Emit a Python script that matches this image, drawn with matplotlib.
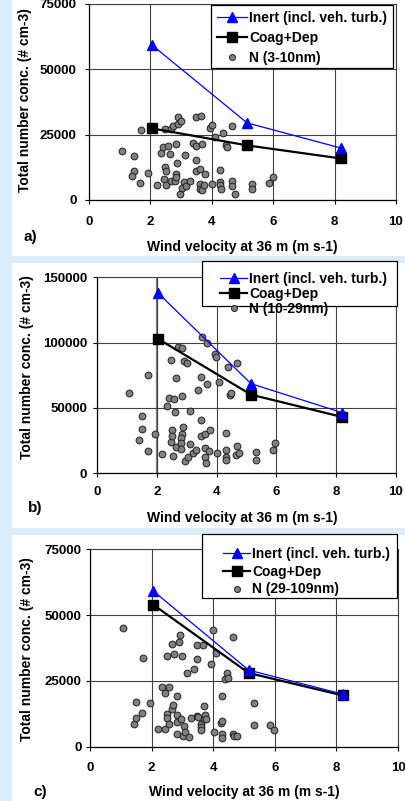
import matplotlib
matplotlib.use("Agg")
import matplotlib.pyplot as plt
from matplotlib.patches import Rectangle
from matplotlib.lines import Line2D

plt.rcParams['font.family'] = ['Liberation Sans', 'DejaVu Sans']
plt.rcParams['font.weight'] = 'bold'

# ---------------- data ----------------
model_wind = [2.05, 5.15, 8.2]

inert_a = [59300, 29500, 19900]
coag_a = [27400, 20900, 15900]
obs_a_x = [1.07, 1.48, 1.48, 1.40, 1.67, 1.70, 1.93, 2.20, 2.34, 2.42, 2.47, 2.48, 2.50, 2.45,
           2.52, 2.57, 2.63, 2.68, 2.74, 2.68, 2.79, 2.84, 2.86, 2.84, 2.84, 2.89, 2.91, 2.99,
           2.96, 3.02, 3.09, 3.13, 3.17, 3.29, 3.39, 3.48, 3.48, 3.50, 3.48, 3.61, 3.66, 3.67,
           3.62, 3.61, 3.67, 3.74, 3.77, 3.93, 4.00, 4.02, 4.09, 4.28, 4.26, 4.28, 4.30, 4.37,
           4.46, 4.49, 4.65, 4.66, 4.65, 4.76, 5.32, 5.32, 5.87, 5.98]
obs_a_y = [18750, 16960, 11100, 9060, 6380, 26660, 10330, 5870, 17860, 20150, 27300, 12750, 10970, 8160,
           5610, 20790, 17600, 27040, 28440, 7140, 7270, 21560, 14290, 9950, 8900, 31630, 29080, 30360,
           2300, 4460, 7020, 17220, 5480, 7270, 21940, 20790, 15180, 31630, 11100, 11990, 32140, 21430,
           5990, 4340, 3830, 5610, 9820, 27680, 28830, 6120, 24110, 11480, 6890, 5610, 4340, 25770,
           20920, 20400, 28440, 7270, 5360, 2170, 6250, 4340, 6630, 8800]

inert_b = [137800, 68600, 46400]
coag_b = [102800, 60200, 43100]
obs_b_x = [1.07, 1.40, 1.49, 1.49, 1.69, 1.70, 1.93, 2.19, 2.34, 2.42, 2.47, 2.57, 2.46, 2.51,
           2.52, 2.54, 2.60, 2.63, 2.64, 2.70, 2.84, 2.84, 2.84, 2.82, 2.81, 2.82, 2.87, 2.91,
           3.02, 2.93, 3.05, 3.11, 3.12, 3.21, 3.32, 3.38, 3.47, 3.47, 3.49, 3.50, 3.60, 3.61,
           3.61, 3.66, 3.68, 3.69, 3.74, 3.78, 3.95, 3.99, 4.02, 4.08, 4.31, 4.30, 4.30, 4.30,
           4.38, 4.45, 4.48, 4.67, 4.67, 4.64, 4.75, 5.31, 5.31, 5.87, 5.96]
obs_b_y = [61220, 25510, 43880, 33930, 17090, 75250, 29850, 14540, 51790, 57650, 86730, 57140, 23980, 33160,
           28830, 13520, 46940, 72960, 20150, 96430, 95920, 59440, 30100, 27040, 22960, 18370, 35710, 85970,
           84690, 9440, 12240, 22190, 47960, 15310, 17600, 63780, 73470, 41070, 28830, 104590, 30100, 19130,
           12240, 8160, 99740, 68110, 16840, 33420, 91330, 89030, 15820, 69640, 30870, 17860, 12500, 9950,
           81630, 60200, 61730, 84180, 20920, 14290, 15820, 16070, 9950, 18110, 22960]

inert_c = [59200, 29100, 20000]
coag_c = [54000, 28000, 19500]
obs_c_x = [1.08, 1.43, 1.49, 1.50, 1.69, 1.72, 1.94, 2.22, 2.35, 2.42, 2.49, 2.49, 2.50, 2.45,
           2.55, 2.58, 2.65, 2.67, 2.68, 2.72, 2.84, 2.84, 2.84, 2.83, 2.92, 2.88, 2.95, 2.99,
           3.01, 3.06, 3.08, 3.15, 3.20, 3.29, 3.39, 3.46, 3.48, 3.49, 3.50, 3.60, 3.60, 3.60,
           3.67, 3.69, 3.69, 3.75, 3.78, 3.92, 4.00, 4.02, 4.09, 4.26, 4.29, 4.29, 4.28, 4.28,
           4.37, 4.44, 4.48, 4.65, 4.65, 4.68, 4.76, 5.32, 5.32, 5.86, 5.97]
obs_c_y = [44980, 8490, 11020, 16980, 12670, 33830, 16600, 6840, 22680, 20530, 34340, 12420, 11020, 6720,
           8620, 22680, 14320, 39020, 15840, 35350, 19130, 12040, 9250, 4690, 42320, 39910, 10390, 34590,
           4180, 7980, 5570, 27870, 3800, 11020, 29650, 11660, 33320, 38640, 11150, 8490, 7470, 6340,
           38640, 15330, 10520, 12040, 10520, 31290, 44220, 5570, 35600, 9000, 9760, 19390, 4810, 3170,
           25850, 28130, 25970, 41560, 4940, 4180, 4180, 16720, 8110, 8110, 6340]

x_ticks = [0, 2, 4, 6, 8, 10]
y_ticks_ac = [0, 25000, 50000, 75000]
y_ticks_b = [0, 50000, 100000, 150000]

labels_obs = ["N (3-10nm)", "N (10-29nm)", "N (29-109nm)"]
label_inert = "Inert (incl. veh. turb.)"
label_coag = "Coag+Dep"
xlabel = "Wind velocity at 36 m (m s-1)"
ylabel = "Total number conc. (# cm-3)"
panel_labels = ["a)", "b)", "c)"]

# ---------------- figure ----------------
W, H = 406, 801
fig = plt.figure(figsize=(W / 100, H / 100), dpi=100)
fig.patch.set_facecolor('#dcedfa')


def fx(px):
    return px / W


def fy(py):
    return 1 - py / H


# white panels
for top, bot in [(0, 256), (263, 528), (535, 801)]:
    fig.patches.append(Rectangle((fx(12), fy(bot)), fx(406) - fx(12), (bot - top) / H,
                                 transform=fig.transFigure, facecolor='white',
                                 edgecolor='none', zorder=-10))

FS = 10
TFS = 9.5

panels = [
    dict(box=(89, 396, 4, 200), inert=inert_a, coag=coag_a, ox=obs_a_x, oy=obs_a_y,
         yt=y_ticks_ac, ymax=75000, lab=labels_obs[0],
         frame=(211, 393, 5, 68), leg=(217, 11), hl=2.15, lsp=0.44,
         xpad=8.5, ypad=6,
         ylab=(25, 100), xlab=(242, 247), pl=(24, 237)),
    dict(box=(97, 396, 277.3, 473.3), inert=inert_b, coag=coag_b, ox=obs_b_x, oy=obs_b_y,
         yt=y_ticks_b, ymax=150000, lab=labels_obs[1],
         frame=(202, 397, 261, 306), leg=(220, 272), hl=1.95, lsp=0.08,
         xpad=6, ypad=4,
         ylab=(27, 367), xlab=(242, 518), pl=(28, 508)),
    dict(box=(90, 398, 549.3, 746.7), inert=inert_c, coag=coag_c, ox=obs_c_x, oy=obs_c_y,
         yt=y_ticks_ac, ymax=75000, lab=labels_obs[2],
         frame=(202, 397, 534, 598), leg=(223, 547), hl=1.95, lsp=0.27,
         xpad=8, ypad=3,
         ylab=(27, 649), xlab=(244, 792), pl=(33, 792)),
]

for i, p in enumerate(panels):
    l, r, t, b = p['box']
    ax = fig.add_axes([fx(l), fy(b), (r - l) / W, (b - t) / H])
    ax.set_facecolor('none')
    ax.set_xlim(0, 10)
    ax.set_ylim(0, p['ymax'])
    ax.set_xticks(x_ticks)
    ax.set_yticks(p['yt'])
    ax.set_xticklabels([str(v) for v in x_ticks], fontsize=TFS, fontweight='bold')
    ax.set_yticklabels([str(v) for v in p['yt']], fontsize=TFS, fontweight='bold')
    ax.tick_params(direction='out', length=3, width=0.8, colors='black')
    ax.tick_params(axis='x', pad=p['xpad'])
    ax.tick_params(axis='y', pad=p['ypad'])
    ax.grid(True, color='#404040', linewidth=0.8)
    ax.set_axisbelow(True)
    for s in ['top', 'right']:
        ax.spines[s].set_color('#404040')
        ax.spines[s].set_linewidth(0.8)
    for s in ['left', 'bottom']:
        ax.spines[s].set_color('black')
        ax.spines[s].set_linewidth(0.9)
    if i == 1:
        ax.axvline(2, color='#808080', linewidth=1.6, zorder=0.5)

    ax.scatter(p['ox'], p['oy'], s=24, facecolor='#808080', edgecolor='#202020',
               linewidth=0.7, zorder=3, clip_on=False)
    ax.plot(model_wind, p['coag'], color='black', linewidth=1.6, marker='s',
            markersize=6.5, zorder=4, clip_on=False)
    ax.plot(model_wind, p['inert'], color='#0000ff', linewidth=0.9, marker='^',
            markersize=6.5, zorder=5, clip_on=False)

    # legend frame
    fl, fr, ft, fb = p['frame']
    fig.patches.append(Rectangle((fx(fl), fy(fb)), (fr - fl) / W, (fb - ft) / H,
                                 transform=fig.transFigure, facecolor='white',
                                 edgecolor='black', linewidth=0.9, zorder=8))

    handles = [
        Line2D([], [], color='#0000ff', linewidth=0.9, marker='^', markersize=6.5),
        Line2D([], [], color='black', linewidth=1.6, marker='s', markersize=6.5),
        Line2D([], [], linestyle='none', marker='o', markersize=4.3,
               markerfacecolor='#808080', markeredgecolor='#202020', markeredgewidth=0.7),
    ]
    lx, ly = p['leg']
    leg = fig.legend(handles, [label_inert, label_coag, p['lab']], loc='upper left',
                     bbox_to_anchor=(fx(lx), fy(ly)), bbox_transform=fig.transFigure,
                     prop=dict(size=FS, weight='bold'), frameon=False,
                     borderpad=0, labelspacing=p['lsp'], handlelength=p['hl'],
                     handletextpad=0.15, borderaxespad=0)
    leg.set_zorder(10)

    fig.text(fx(p['ylab'][0]), fy(p['ylab'][1]), ylabel, rotation=90, ha='center',
             va='center', fontsize=FS, fontweight='bold')
    fig.text(fx(p['xlab'][0]), fy(p['xlab'][1]), xlabel, ha='center', va='center',
             fontsize=FS, fontweight='bold')
    fig.text(fx(p['pl'][0]), fy(p['pl'][1]), panel_labels[i], ha='left', va='center',
             fontsize=11, fontweight='bold')

fig.savefig('out.png', dpi=100, facecolor=fig.get_facecolor())
